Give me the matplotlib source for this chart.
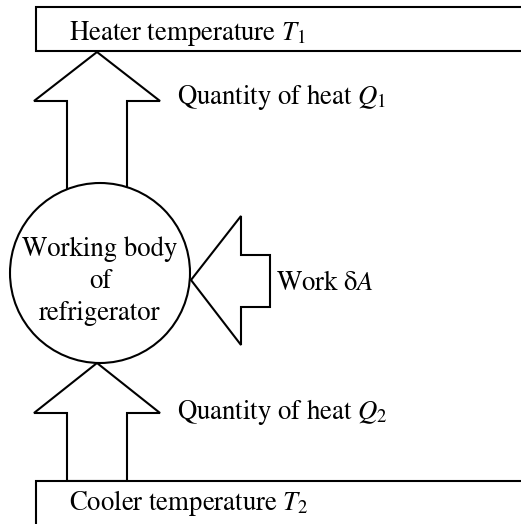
import matplotlib.pyplot as plt
from matplotlib.patches import Polygon, Circle, Rectangle

plt.rcParams['font.family'] = 'STIXGeneral'
plt.rcParams['mathtext.fontset'] = 'stix'

# labels
box_labels = ['Heater temperature $T_1$', 'Cooler temperature $T_2$']
heat_labels = ['Quantity of heat $Q_1$', 'Quantity of heat $Q_2$']
work_label = 'Work δ$A$'
body_lines = ['Working body', 'of', 'refrigerator']

# geometry (pixel units, y down)
W, H = 521, 524
box_top = (36, 7, 44)        # x, y, height
box_bottom = (36, 481, 60)
body_c, body_r = (100, 273), 90
up_arrows = [(97, 52, 101, 200), (97, 363, 413, 481)]  # tip x, tip y, head base y, shaft end y
work_arrow = dict(tip=(191, 280), head_x=241, head_top=216, head_bot=345,
                  shaft_top=255, shaft_bot=307, shaft_end=270)

fig = plt.figure(figsize=(W / 100, H / 100), dpi=100)
ax = fig.add_axes([0, 0, 1, 1])
ax.set_xlim(0, W)
ax.set_ylim(H, 0)
ax.axis('off')

lw = 1.5
fs = 19.3

for (x, y, h) in [box_top, box_bottom]:
    ax.add_patch(Rectangle((x, y), W - x + 20, h, fc='white', ec='black', lw=lw, zorder=1))

for tx, ty, hb, se in up_arrows:
    pts = [(tx, ty), (tx + 63, hb), (tx + 30, hb), (tx + 30, se),
           (tx - 30, se), (tx - 30, hb), (tx - 63, hb)]
    ax.add_patch(Polygon(pts, closed=True, fc='white', ec='black', lw=lw, zorder=0))

wa = work_arrow
pts = [wa['tip'], (wa['head_x'], wa['head_top']), (wa['head_x'], wa['shaft_top']),
       (wa['shaft_end'], wa['shaft_top']), (wa['shaft_end'], wa['shaft_bot']),
       (wa['head_x'], wa['shaft_bot']), (wa['head_x'], wa['head_bot'])]
ax.add_patch(Polygon(pts, closed=True, fc='white', ec='black', lw=lw, zorder=2))

ax.add_patch(Circle(body_c, body_r, fc='white', ec='black', lw=lw, zorder=3))

ax.text(69, 40, box_labels[0], fontsize=fs, va='baseline', zorder=5)
ax.text(69, 510, box_labels[1], fontsize=fs, va='baseline', zorder=5)
ax.text(177, 104, heat_labels[0], fontsize=fs, va='baseline', zorder=5)
ax.text(177, 419, heat_labels[1], fontsize=fs, va='baseline', zorder=5)
ax.text(276, 290, work_label, fontsize=fs, va='baseline', zorder=5)
for i, line in enumerate(body_lines):
    ax.text(100, 256 + 32 * i, line, fontsize=fs, ha='center', va='baseline', zorder=5)

fig.savefig('out.png', dpi=100)
